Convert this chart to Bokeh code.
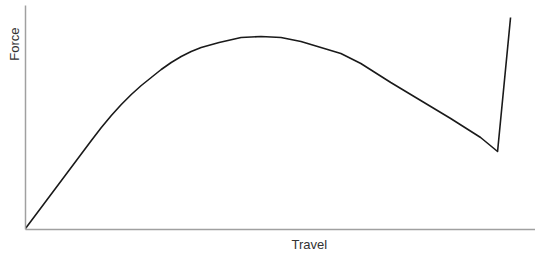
from bokeh.plotting import figure
from bokeh.models import Range1d, Title
from bokeh.embed import file_html
from bokeh.resources import INLINE

travel = [0, 6, 36, 66, 76, 86, 96, 106, 116, 126, 136, 146, 156, 166, 176, 194, 216, 236, 256, 276, 296, 316, 336, 366, 396, 426, 456, 473, 486]
force = [1, 9, 49, 89, 102, 114, 125, 135, 144, 152, 160, 167, 173, 178, 182, 187, 192, 193, 192, 188, 182, 176, 166, 147, 129, 111, 92, 78, 212]

x_label = "Travel"
y_label = "Force"

p = figure(width=535, height=257, output_backend="svg", toolbar_location=None,
           x_range=Range1d(0, 511), y_range=Range1d(0, 224),
           min_border_left=24, min_border_right=0, min_border_top=5, min_border_bottom=28)
p.outline_line_color = None
p.grid.visible = False
for ax in (p.xaxis, p.yaxis):
    ax.ticker = []
    ax.major_tick_line_color = None
    ax.minor_tick_line_color = None
    ax.axis_line_color = "#a0a0a0"
    ax.axis_line_width = 1.5

p.line(travel, force, line_color="#1a1a1a", line_width=1.6, line_join="round")

p.add_layout(Title(text=x_label, align="left", offset=266, standoff=11,
                   text_font="Liberation Sans", text_font_size="13px", text_font_style="normal",
                   text_color="#333333"), "below")
p.add_layout(Title(text=y_label, align="right", offset=22, standoff=8,
                   text_font="Liberation Sans", text_font_size="13px", text_font_style="normal",
                   text_color="#333333"), "left")

open("out.html", "w").write(file_html(p, INLINE))
